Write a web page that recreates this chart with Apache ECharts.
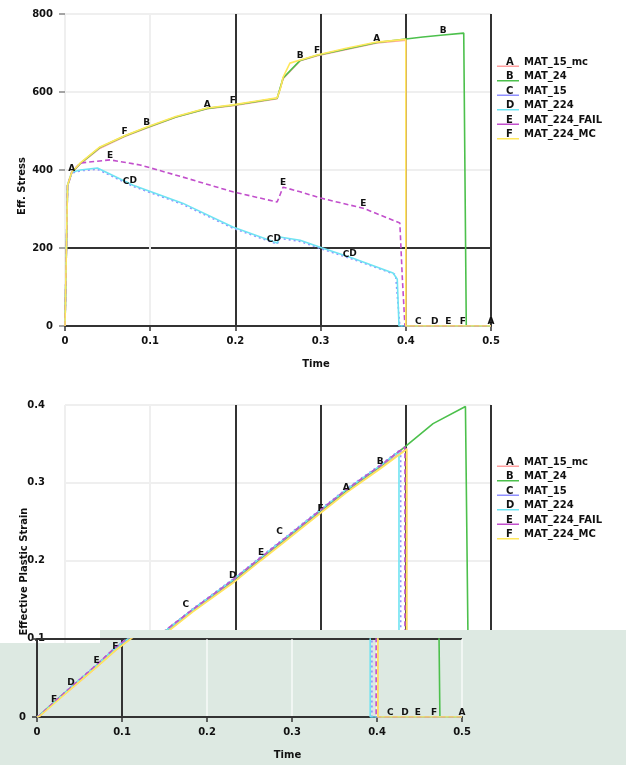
<!DOCTYPE html>
<html>
<head>
<meta charset="utf-8">
<script src="https://cdn.jsdelivr.net/npm/echarts@6/dist/echarts.min.js"></script>
<style>
  html, body { margin: 0; padding: 0; background: #fff; }
  #chart { width: 626px; height: 765px; }
</style>
</head>
<body>
<div id="chart"></div>
<script>
// Curve names and their one-letter tags
const curveNames = ['MAT_15_mc', 'MAT_24', 'MAT_15', 'MAT_224', 'MAT_224_FAIL', 'MAT_224_MC'];
const curveCodes = ['A', 'B', 'C', 'D', 'E', 'F'];
const curveColors = ['#ff9f9f', '#4cc04c', '#8f8fff', '#6fe3f2', '#c24fcc', '#ffe75c'];

// Axis ticks
const timeTicks = [0, 0.1, 0.2, 0.3, 0.4, 0.5];
const stressTicks = [0, 200, 400, 600, 800];
const strainTicks = [0, 0.1, 0.2, 0.3, 0.4];

// Effective stress vs time, [time, stress]
const stressA = [[0,0],[0.003,358],[0.008,393],[0.018,416],[0.041,456],[0.07,486],[0.096,508],[0.13,535],[0.167,557],[0.197,565],[0.249,583],[0.256,634],[0.276,680],[0.296,693],[0.366,726],[0.4,733],[0.4,0],[0.5,0]];
const stressB = [[0,0],[0.003,360],[0.008,394],[0.018,417],[0.041,458],[0.07,487],[0.096,509],[0.13,536],[0.167,558],[0.197,566],[0.249,584],[0.256,636],[0.276,681],[0.296,694],[0.366,727],[0.4,736],[0.42,741],[0.444,746],[0.468,751],[0.471,0],[0.5,0]];
const stressC = [[0,0],[0.003,360],[0.008,392],[0.018,398],[0.038,402],[0.08,358],[0.138,312],[0.197,251],[0.249,210],[0.252,225],[0.276,217],[0.302,197],[0.338,171],[0.388,132],[0.393,0],[0.423,0],[0.5,0]];
const stressD = [[0,0],[0.003,361],[0.008,394],[0.018,400],[0.038,405],[0.08,361],[0.138,315],[0.197,254],[0.249,213],[0.252,228],[0.276,220],[0.302,200],[0.338,174],[0.385,136],[0.39,120],[0.392,0],[0.434,0],[0.5,0]];
const stressE = [[0,0],[0.003,361],[0.008,395],[0.018,418],[0.053,426],[0.088,413],[0.138,382],[0.197,344],[0.249,318],[0.256,356],[0.276,344],[0.3,328],[0.35,302],[0.393,264],[0.396,120],[0.399,0],[0.45,0],[0.5,0]];
const stressF = [[0,0],[0.003,361],[0.008,395],[0.018,418],[0.041,459],[0.07,488],[0.096,510],[0.13,537],[0.167,559],[0.197,567],[0.225,577],[0.249,585],[0.253,610],[0.256,638],[0.264,674],[0.276,682],[0.296,695],[0.33,712],[0.366,728],[0.4,735],[0.4,0],[0.467,0],[0.5,0]];

// Effective plastic strain vs time, [time, strain]
const strainA = [[0,0],[0.003,0.001],[0.02,0.018],[0.04,0.036],[0.07,0.064],[0.092,0.085],[0.12,0.109],[0.15,0.135],[0.197,0.172],[0.23,0.201],[0.26,0.227],[0.3,0.262],[0.33,0.288],[0.37,0.319],[0.401,0.344],[0.401,0],[0.5,0]];
const strainB = [[0,0],[0.003,0.002],[0.02,0.019],[0.04,0.038],[0.07,0.066],[0.092,0.088],[0.12,0.111],[0.15,0.137],[0.197,0.174],[0.23,0.203],[0.26,0.229],[0.3,0.264],[0.33,0.29],[0.37,0.321],[0.4,0.347],[0.432,0.376],[0.47,0.398],[0.474,0],[0.5,0]];
const strainC = [[0,0],[0.003,0.002],[0.02,0.019],[0.04,0.039],[0.07,0.067],[0.092,0.089],[0.12,0.112],[0.15,0.138],[0.197,0.176],[0.23,0.205],[0.26,0.231],[0.3,0.266],[0.33,0.292],[0.37,0.323],[0.394,0.343],[0.394,0],[0.424,0],[0.5,0]];
const strainD = [[0,0],[0.003,0.002],[0.02,0.018],[0.04,0.038],[0.07,0.066],[0.092,0.088],[0.12,0.111],[0.15,0.137],[0.197,0.175],[0.23,0.204],[0.26,0.23],[0.3,0.265],[0.33,0.291],[0.37,0.322],[0.392,0.34],[0.392,0],[0.433,0],[0.5,0]];
const strainE = [[0,0],[0.003,0.002],[0.02,0.019],[0.04,0.038],[0.07,0.067],[0.092,0.089],[0.12,0.112],[0.15,0.137],[0.197,0.175],[0.23,0.204],[0.26,0.23],[0.3,0.265],[0.33,0.291],[0.37,0.322],[0.399,0.346],[0.399,0],[0.448,0],[0.5,0]];
const strainF = [[0,0],[0.003,0.001],[0.02,0.017],[0.04,0.036],[0.07,0.064],[0.092,0.085],[0.12,0.108],[0.15,0.134],[0.197,0.171],[0.23,0.2],[0.26,0.226],[0.3,0.261],[0.33,0.287],[0.37,0.318],[0.401,0.343],[0.401,0],[0.467,0],[0.5,0]];

// Times at which each curve carries its letter tag
const stressTags = [[0.008, 0.167, 0.366, 0.5], [0.096, 0.276, 0.444], [0.08, 0.249, 0.338, 0.423], [0.08, 0.249, 0.338, 0.434], [0.053, 0.256, 0.35, 0.45], [0.07, 0.197, 0.296, 0.467]];
const strainTags = [[0.33, 0.5], [0.37], [0.15, 0.26, 0.424], [0.04, 0.197, 0.433], [0.07, 0.23, 0.448], [0.02, 0.092, 0.3, 0.467]];

const stressSets = [stressA, stressB, stressC, stressD, stressE, stressF];
const strainSets = [strainA, strainB, strainC, strainD, strainE, strainF];
const dashes = ['solid', 'solid', [2, 3], 'solid', [5, 3], 'solid'];

const FONT = 'DejaVu Sans';
const DARK = '#333';

function tagged(points, tags, code, idx) {
  return points.map(function (p) {
    if (tags.indexOf(p[0]) >= 0) {
      return {
        value: p,
        label: {
          show: true, formatter: code, position: 'top', distance: 0,
          offset: idx === 2 ? [-7, 0] : [0, 0],
          fontSize: 9, fontWeight: 'bold', fontFamily: FONT, color: '#111'
        }
      };
    }
    return p;
  });
}

function curveSeries(sets, tags, xi, yi, z) {
  return sets.map(function (pts, i) {
    return {
      type: 'line', name: curveNames[i],
      xAxisIndex: xi, yAxisIndex: yi, z: z,
      data: tagged(pts, tags[i], curveCodes[i], i),
      symbol: 'circle', symbolSize: 0.01, showSymbol: true,
      lineStyle: { color: curveColors[i], width: 1.6, type: dashes[i] },
      itemStyle: { color: curveColors[i] },
      emphasis: { disabled: true },
      clip: true
    };
  });
}

const labelStyle = { fontSize: 10, fontWeight: 'bold', fontFamily: FONT, color: '#111' };
const faint = '#efefef';

const xSplitColors = [faint, faint, DARK, DARK, DARK, DARK];

function timeAxis(gridIndex, extra) {
  return Object.assign({
    type: 'value', gridIndex: gridIndex, min: timeTicks[0], max: timeTicks[timeTicks.length - 1], interval: 0.1,
    axisLine: { show: true, lineStyle: { color: DARK, width: 2 } },
    axisTick: { show: true, length: 5, lineStyle: { color: DARK, width: 1.5 } },
    axisLabel: Object.assign({ margin: 10, formatter: function (v) { return v === 0 ? '0' : String(+v.toFixed(1)); } }, labelStyle),
    splitLine: { show: true, lineStyle: { color: xSplitColors, width: 2 } },
    name: 'Time', nameLocation: 'middle', nameGap: 33,
    nameTextStyle: Object.assign({ padding: [0, 0, 0, 76] }, labelStyle)
  }, extra || {});
}

const underline = 'path://M0,0L22,0L22,0.01L0,0.01Z M0,8.4L22,8.4L22,10L0,10Z';
function legendAt(top) {
  return {
    data: curveNames, orient: 'vertical', left: 497, top: top, padding: 0,
    itemWidth: 22, itemHeight: 10, itemGap: 0.5, icon: underline,
    selectedMode: false,
    textStyle: Object.assign({ lineHeight: 14 }, labelStyle)
  };
}
function legendLetters(top) {
  return curveCodes.map(function (c, i) {
    return {
      type: 'text', left: 506, top: top + 2 + i * 14.5, z: 200,
      style: { text: c, fontSize: 10, fontWeight: 'bold', fontFamily: FONT, fill: '#111' }
    };
  });
}

const bandColor = '#dde9e2';

const option = {
  animation: false,
  backgroundColor: '#fff',
  grid: [
    { left: 65, top: 14, width: 426, height: 312 },
    { left: 65, top: 405, width: 426, height: 311 },
    { left: 37, top: 639, width: 425, height: 78, z: 110 }
  ],
  legend: [legendAt(55), legendAt(455)],
  xAxis: [
    timeAxis(0),
    timeAxis(1, { axisLabel: { show: false }, name: '', axisTick: { show: false } }),
    timeAxis(2, {
      z: 110,
      splitLine: { show: true, lineStyle: { color: ['rgba(255,255,255,0.6)', DARK, 'rgba(255,255,255,0.6)', 'rgba(255,255,255,0.6)', 'rgba(255,255,255,0.6)', 'rgba(255,255,255,0.6)'], width: 2 } }
    })
  ],
  yAxis: [
    {
      type: 'value', gridIndex: 0, min: stressTicks[0], max: stressTicks[stressTicks.length - 1], interval: 200,
      axisLine: { show: false },
      axisTick: { show: true, length: 6, lineStyle: { color: '#888', width: 1.5 } },
      axisLabel: Object.assign({ margin: 12 }, labelStyle),
      splitLine: { show: true, lineStyle: { color: [DARK, DARK, faint, faint, faint], width: 2 } },
      name: 'Eff. Stress', nameLocation: 'middle', nameGap: 38, nameRotate: 90, nameMoveOverlap: false,
      nameTextStyle: Object.assign({ padding: [0, 32, 0, 0] }, labelStyle)
    },
    {
      type: 'value', gridIndex: 1, min: strainTicks[0], max: strainTicks[strainTicks.length - 1], interval: 0.1,
      axisLine: { show: false },
      axisTick: { show: false },
      axisLabel: Object.assign({ margin: 20, formatter: function (v) { return v === 0 ? '0' : String(+v.toFixed(1)); } }, labelStyle),
      splitLine: { show: true, lineStyle: { color: [DARK, DARK, faint, faint, faint], width: 2 } },
      name: 'Effective Plastic Strain', nameLocation: 'middle', nameGap: 36, nameRotate: 90, nameMoveOverlap: false,
      nameTextStyle: Object.assign({ padding: [0, 22, 0, 0] }, labelStyle)
    },
    {
      type: 'value', gridIndex: 2, min: 0, max: 0.1, interval: 0.1, z: 110,
      axisLine: { show: true, lineStyle: { color: DARK, width: 2 } },
      axisTick: { show: true, length: 5, lineStyle: { color: DARK, width: 1.5 } },
      axisLabel: Object.assign({ margin: 11, formatter: function (v) { return v === 0 ? '0' : ''; } }, labelStyle),
      splitLine: { show: true, lineStyle: { color: ['rgba(255,255,255,0.6)', DARK], width: 2 } }
    }
  ],
  graphic: [
    { type: 'rect', z: 100, shape: { x: 0, y: 643, width: 626, height: 122 }, style: { fill: bandColor } },
    { type: 'rect', z: 100, shape: { x: 100, y: 630, width: 526, height: 13 }, style: { fill: bandColor } }
  ].concat(legendLetters(55), legendLetters(455)),
  series: [].concat(
    curveSeries(stressSets, stressTags, 0, 0, 2),
    curveSeries(strainSets, strainTags, 1, 1, 2),
    curveSeries(strainSets, strainTags, 2, 2, 120)
  )
};

const chart = echarts.init(document.getElementById('chart'), null, { renderer: 'canvas' });
chart.setOption(option);
</script>
</body>
</html>
